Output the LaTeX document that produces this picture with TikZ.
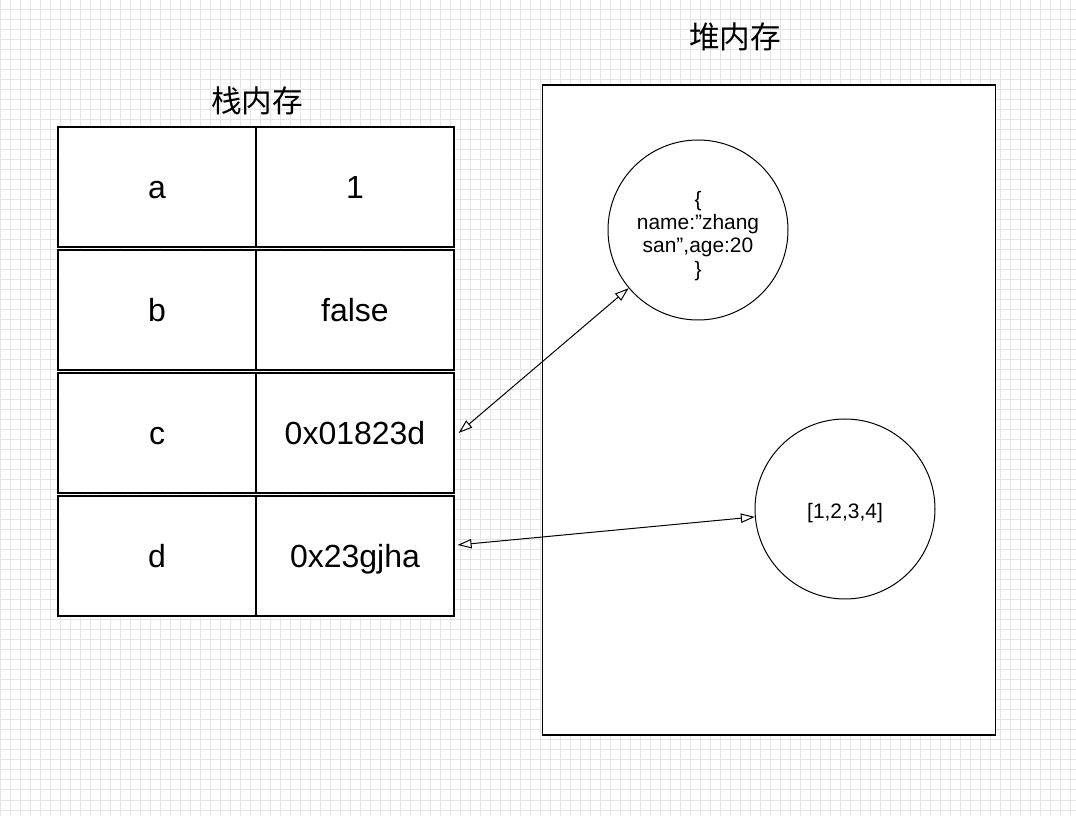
\documentclass[tikz,border=0pt]{standalone}
\usepackage{fontspec}
\setmainfont{Liberation Sans}
\newfontfamily\cjk{Noto Sans CJK SC}
\usetikzlibrary{arrows.meta}
\definecolor{gridc}{RGB}{228,228,228}
\tikzset{
  gridline/.style={draw=gridc, line width=0.75pt},
  cell/.style={draw=black, fill=white, line width=0.9pt, minimum width=148.5pt, minimum height=90pt, inner sep=0pt, text height=17.2pt, text depth=0pt, font=\fontsize{24}{28}\selectfont},
  title/.style={font=\cjk\fontsize{23}{26}\selectfont},
  heapobj/.style={draw=black, fill=white, circle, line width=0.75pt, minimum size=135pt, inner sep=0pt},
  objtext/.style={align=center, inner sep=0pt, font=\fontsize{15.7}{17.3}\selectfont},
  ref/.style={line width=0.75pt, {Triangle[open,length=10.5pt,width=7pt]}-{Triangle[open,length=10.5pt,width=7pt]}}
}
\begin{document}
\begin{tikzpicture}[x=0.75pt,y=-0.75pt]
\useasboundingbox (0,0) rectangle (1076,816);
\fill[white] (0,0) rectangle (1076,816);
\foreach \i in {0,10,...,1070} \draw[gridline] (\i,0) -- (\i,816);
\foreach \j in {0,10,...,810} \draw[gridline] (0,\j) -- (1076,\j);
% titles
\node[title] (st) at (257,101) {栈内存};
\node[title] (ht) at (735,37) {堆内存};
% heap
\node[draw=black, fill=white, line width=1pt, minimum width=340pt, minimum height=487.5pt, inner sep=0pt] (heap) at (769,410) {};
% stack cells
\node[cell] (ak) at (157,187) {a};
\node[cell] (av) at (355,187) {1};
\node[cell] (bk) at (157,310) {b};
\node[cell] (bv) at (355,310) {false};
\node[cell] (ck) at (157,433) {c};
\node[cell] (cv) at (355,433) {0x01823d};
\node[cell] (dk) at (157,556) {d};
\node[cell] (dv) at (355,556) {0x23gjha};
% heap objects
\node[heapobj] (obj) at (698,230) {};
\node[objtext] (objt) at ([yshift=-4.5pt]obj.center) {\{\\name:”zhang\\san”,age:20\\\}};
\node[heapobj] (arr) at (845,509) {};
\node[objtext] (arrt) at ([yshift=-3pt]arr.center) {[1,2,3,4]};
% references
\draw[ref] ([xshift=3pt]cv.east) -- (obj.220);
\draw[ref] ([shift={(3,-11)}]dv.east) -- (arr.185);
\end{tikzpicture}
\end{document}
